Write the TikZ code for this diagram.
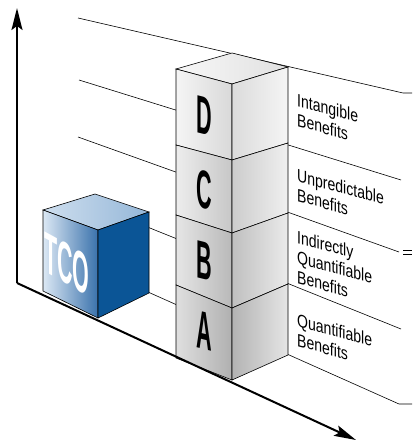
\documentclass[tikz,border=0pt]{standalone}
\usepackage{fontspec}
\usepackage{tikz}
\usetikzlibrary{arrows.meta}
\newfontfamily\blockfont[FakeStretch=0.4]{Liberation Sans}
\newfontfamily\tcofont[FakeStretch=0.37]{Liberation Sans}
\newfontfamily\labelfont[FakeStretch=0.78]{Liberation Sans}
\definecolor{tcodark}{HTML}{0B5596}
\definecolor{tcomid}{HTML}{3A72AC}
\definecolor{tcolight}{HTML}{DCE8F4}
\definecolor{tcotop}{HTML}{95B7D8}

\begin{document}
\begin{tikzpicture}[x=1pt,y=-1pt,
    wall/.style={line width=0.6pt},
    cubeedge/.style={draw=black,line width=0.6pt},
    xyaxis/.style={line width=2pt,-{Stealth[length=22pt,width=11pt,inset=4pt]}},
    letter/.style={font=\blockfont\bfseries\fontsize{54}{54}\selectfont,yslant=-0.25,inner sep=0pt},
    benefit/.style={font=\labelfont\fontsize{18}{20}\selectfont,align=left,anchor=north west,yslant=-0.27,inner sep=0pt}]
    \useasboundingbox (0,0) rectangle (412,443);
    % lines on the back wall
    \draw[wall] (78,18) -- (403,93) -- (412,93);
    \draw[wall] (79,80) -- (401,180);
    \draw[wall] (78,137) -- (399,252);
    \draw[wall] (403,250) -- (412,250);
    \draw[wall] (403,254) -- (412,254);
    \draw[wall] (120,216) -- (401,329);
    \draw[wall] (130,284) -- (399,404) -- (412,404);
    % stack of benefit cubes
    \shadedraw[cubeedge,left color=gray!6,right color=gray!24] (176,69) -- (232,53) -- (288,67) -- (232,84) -- cycle;
    \shadedraw[cubeedge,left color=gray!8,right color=gray!30] (176,69) -- (232,84) -- (232,160) -- (176,145) -- cycle;
    \shadedraw[cubeedge,left color=gray!28,right color=gray!8] (232,84) -- (288,67) -- (288,143) -- (232,160) -- cycle;
    \shadedraw[cubeedge,left color=gray!14,right color=gray!44] (176,145) -- (232,160) -- (232,233) -- (176,215) -- cycle;
    \shadedraw[cubeedge,left color=gray!40,right color=gray!12] (232,160) -- (288,143) -- (288,213) -- (232,233) -- cycle;
    \shadedraw[cubeedge,left color=gray!20,right color=gray!55] (176,215) -- (232,233) -- (232,308) -- (176,285) -- cycle;
    \shadedraw[cubeedge,left color=gray!50,right color=gray!16] (232,233) -- (288,213) -- (288,284) -- (232,308) -- cycle;
    \shadedraw[cubeedge,left color=gray!25,right color=gray!62] (176,285) -- (232,308) -- (232,380) -- (176,358) -- cycle;
    \shadedraw[cubeedge,left color=gray!60,right color=gray!20] (232,308) -- (288,284) -- (288,355) -- (232,380) -- cycle;
    \node[letter] (lD) at (204,116) {D};
    \node[letter] (lC) at (204,190) {C};
    \node[letter] (lB) at (204,261) {B};
    \node[letter] (lA) at (204,331) {A};
    % TCO cube
    \shadedraw[cubeedge,left color=tcolight!80!tcotop,right color=tcotop] (43,210) -- (95,194) -- (149,212) -- (98,230) -- cycle;
    \shadedraw[cubeedge,left color=tcolight,right color=tcomid] (43,210) -- (98,230) -- (98,318) -- (43,291) -- cycle;
    \filldraw[cubeedge,fill=tcodark] (98,230) -- (149,212) -- (149,293) -- (98,318) -- cycle;
    \node[letter,white,yslant=-0.3,font=\tcofont\bfseries\fontsize{58}{58}\selectfont] (tco) at (67,264) {TCO};
    % labels
    \node[benefit] (intang) at (297,93) {Intangible\\Benefits};
    \node[benefit] (unpred) at (297,168) {Unpredictable\\Benefits};
    \node[benefit] (indir) at (297,230) {Indirectly\\Quantifiable\\Benefits};
    \node[benefit] (quant) at (297,313) {Quantifiable\\Benefits};
    % axes
    \coordinate (o) at (17,283);
    \coordinate (ytip) at (17,8);
    \coordinate (xtip) at (356,440);
    \draw[xyaxis] (o) -- (ytip);
    \draw[xyaxis] (o) -- (xtip);
\end{tikzpicture}
\end{document}
